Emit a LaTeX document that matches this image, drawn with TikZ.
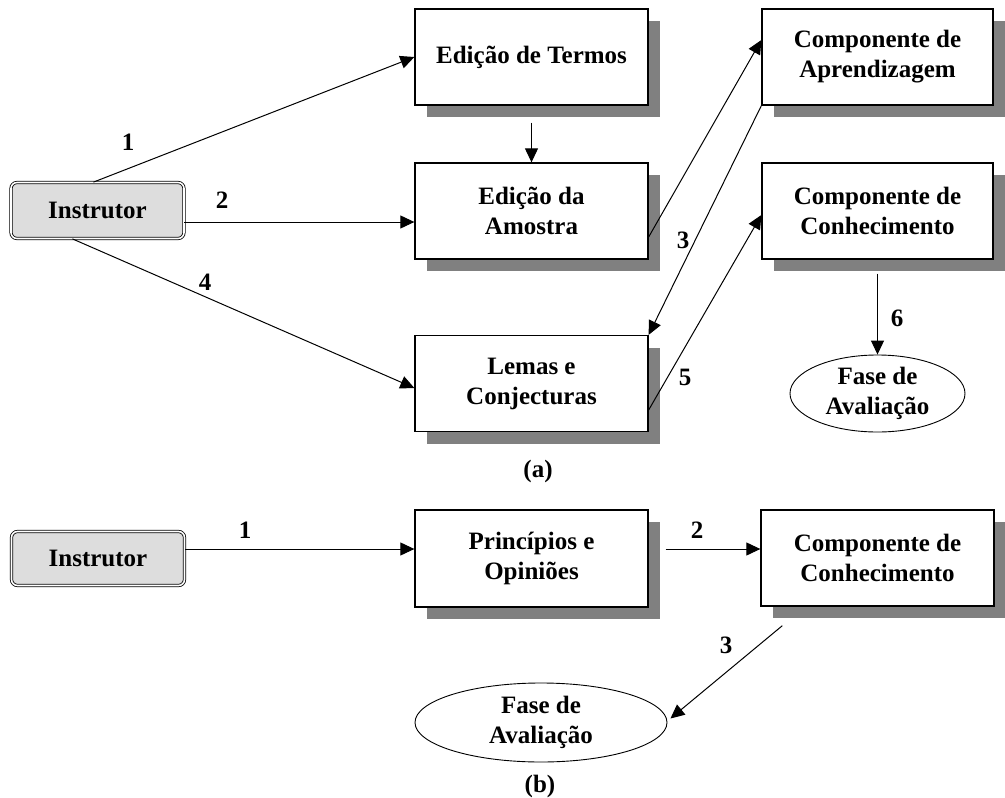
\documentclass[tikz,border=0pt]{standalone}
\usepackage{fontspec}
\setmainfont{Liberation Serif}
\usetikzlibrary{arrows.meta,shadows,shapes.geometric,calc}
\definecolor{shade}{RGB}{128,128,128}
\definecolor{instfill}{RGB}{221,221,221}
\begin{document}
\begin{tikzpicture}[x=1pt,y=-1pt,
  every node/.style={font=\fontsize{25}{30}\selectfont\bfseries},
  box/.style={draw, line width=1.3pt, fill=white, align=center,
    minimum width=233pt, minimum height=96pt, inner sep=0pt,
    drop shadow={shadow xshift=12pt, shadow yshift=-12pt, fill=shade, opacity=1}},
  inst/.style={draw, line width=0.8pt, double, double distance=1.6pt,
    rounded corners=6pt, fill=instfill, minimum width=173pt, minimum height=56pt, inner sep=0pt},
  phase/.style={ellipse, draw, line width=0.9pt, align=center, inner sep=0pt},
  arr/.style={line width=1pt, -{Triangle[length=14pt,width=13pt]}},
  lbl/.style={inner sep=0pt}]
\useasboundingbox (0,0) rectangle (1005,798);

% ---------- part (a) ----------
\node[inst] (ia) at (97.5,210.5) {Instrutor};
\node[box] (termos)  at (531.5,57)    {Edição de Termos};
\node[box] (amostra) at (531.5,211)   {Edição da\\Amostra};
\node[box] (lemas)   at (531.5,383.5) {Lemas e\\Conjecturas};
\node[box, minimum width=231pt] (aprend) at (877.5,57)  {Componente de\\Aprendizagem};
\node[box, minimum width=231pt] (conhec) at (877.5,211) {Componente de\\Conhecimento};
\node[phase, minimum width=175pt, minimum height=77pt] (fasea) at (877.5,393.5) {Fase de\\Avaliação};

\coordinate (ya2) at (0,222);
\draw[arr] ($(ia.north)+(-4,0)$) -- (termos.west);
\draw[arr] (ia.east |- ya2) -- (amostra.west |- ya2);
\draw[arr] ($(ia.south)+(-25,0)$) -- ($(lemas.west)+(0,4.5)$);
\draw[arr] ($(termos.south)+(0,17)$) -- (amostra.north);
\draw[arr] ($(amostra.east)+(0,26)$) -- ($(aprend.west)+(0,-17)$);
\draw[arr] (aprend.south west) -- (lemas.north east);
\draw[arr] ($(lemas.east)+(0,26.5)$) -- ($(conhec.west)+(0,4)$);
\draw[arr] ($(conhec.south)+(0,14)$) -- (fasea.north);

\node[lbl] (la1) at (128,142) {1};
\node[lbl] (la2) at (222,200) {2};
\node[lbl] (la4) at (205,282) {4};
\node[lbl] (la3) at (683,240) {3};
\node[lbl] (la5) at (685,377) {5};
\node[lbl] (la6) at (897,318) {6};
\node[lbl] (capa) at (538,471) {(a)};

% ---------- part (b) ----------
\node[inst, minimum height=54pt] (ib) at (98,558.5) {Instrutor};
\node[box, minimum height=97pt] (princ) at (531.5,558.5) {Princípios e\\Opiniões};
\node[box, minimum width=233pt] (conhecb) at (877.5,558) {Componente de\\Conhecimento};
\node[phase, minimum width=252pt, minimum height=79pt] (faseb) at (541,722.5) {Fase de\\Avaliação};

\coordinate (yb) at (0,549);
\draw[arr] (ib.east |- yb) -- (princ.west |- yb);
\draw[arr] ($(princ.east |- yb)+(17,0)$) -- (conhecb.west |- yb);
\draw[arr] ($(conhecb.south west)+(22,19)$) -- ($(faseb.east)+(3,-4)$);

\node[lbl] (lb1) at (245,530) {1};
\node[lbl] (lb2) at (697,530) {2};
\node[lbl] (lb3) at (726,645) {3};
\node[lbl] (capb) at (540,786) {(b)};
\end{tikzpicture}
\end{document}
